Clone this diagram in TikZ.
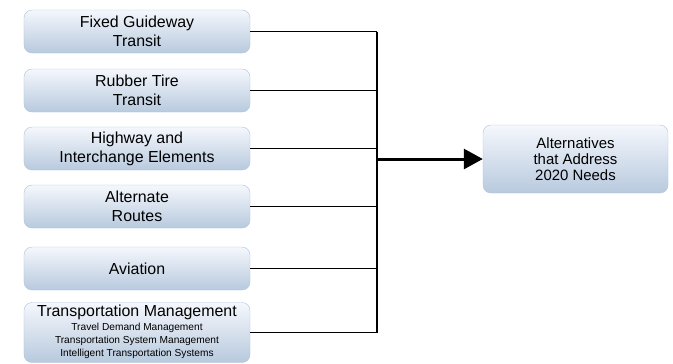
\documentclass[tikz,border=0pt]{standalone}
\usepackage{fontspec}
\setmainfont{Liberation Sans}
\usetikzlibrary{arrows.meta}
\newcommand{\smalltext}{\fontsize{10.2}{12.7}\selectfont}
\begin{document}
\begin{tikzpicture}[x=1bp,y=-1bp]
\definecolor{boxtop}{rgb}{0.96,0.97,0.99}
\definecolor{boxbottom}{rgb}{0.72,0.79,0.87}
\definecolor{boxline}{rgb}{0.68,0.76,0.86}
\tikzset{
  option/.style={draw=boxline, rounded corners=8bp, top color=boxtop, bottom color=boxbottom,
    minimum width=226bp, inner sep=0pt, align=center, font=\fontsize{16}{19}\selectfont},
  result/.style={option, minimum width=185bp, minimum height=68bp, font=\fontsize{15}{16}\selectfont},
  link/.style={draw, line width=1.1bp}
}
\useasboundingbox (0,0) rectangle (673,363);

\node[option, minimum height=43bp] (1) at (137,31.5) {Fixed Guideway\\Transit};
\node[option, minimum height=43bp] (2) at (137,90.5) {Rubber Tire\\Transit};
\node[option, minimum height=43bp] (3) at (137,148.5) {Highway and\\Interchange Elements};
\node[option, minimum height=43bp] (4) at (137,206.5) {Alternate\\Routes};
\node[option, minimum height=43bp] (5) at (137,268.5) {Aviation};
\node[option, minimum height=60bp] (6) at (137,332.5) {Transportation Management\\[1bp]
  \smalltext\begin{tabular}{@{}c@{}}Travel Demand Management\\Transportation System Management\\
  Intelligent Transportation Systems\end{tabular}};
\node[result] (7) at (575.5,159) {Alternatives\\that Address\\2020 Needs};
\coordinate (bus) at (377,0);

\path[link] (1.east) -- (1.east -| bus);
\path[link] (2.east) -- (2.east -| bus);
\path[link] (3.east) -- (3.east -| bus);
\path[link] (4.east) -- (4.east -| bus);
\path[link] (5.east) -- (5.east -| bus);
\path[link] (6.east) -- (6.east -| bus);
\path[link] (1.east -| bus) -- (6.east -| bus);
\path[draw, line width=3bp, -{Triangle[length=19bp,width=20bp]}] (bus |- 7.west) -- (7.west);
\end{tikzpicture}
\end{document}
